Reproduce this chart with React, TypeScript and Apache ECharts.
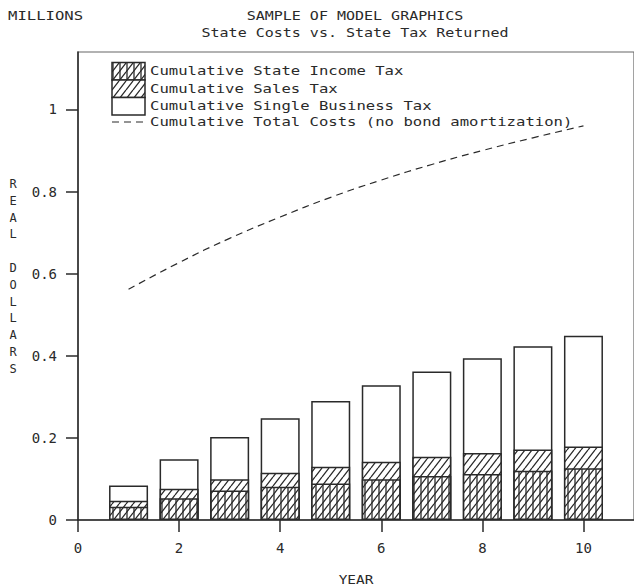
import React, { useEffect, useRef } from "react";
import * as echarts from "echarts";

const years = [1, 2, 3, 4, 5, 6, 7, 8, 9, 10];
const incomeTax = [0.032, 0.053, 0.072, 0.081, 0.089, 0.099, 0.107, 0.112, 0.12, 0.126];
const salesTax = [0.015, 0.023, 0.027, 0.034, 0.041, 0.043, 0.047, 0.051, 0.052, 0.053];
const businessTax = [0.037, 0.072, 0.103, 0.133, 0.16, 0.186, 0.208, 0.231, 0.251, 0.27];
const totalCosts = [0.562, 0.627, 0.686, 0.738, 0.786, 0.828, 0.866, 0.9, 0.931, 0.96];
const xTicks = [0, 2, 4, 6, 8, 10];
const yTicks = [0, 0.2, 0.4, 0.6, 0.8, 1];
const seriesNames = [
  "Cumulative State Income Tax",
  "Cumulative Sales Tax",
  "Cumulative Single Business Tax",
  "Cumulative Total Costs (no bond amortization)",
];

const INK = "#2a2a2a";
const FONT = "DejaVu Sans Mono";

function makeHatch(cross: boolean) {
  const w = 7;
  const h = 9;
  const c = document.createElement("canvas");
  c.width = w;
  c.height = h;
  const ctx = c.getContext("2d")!;
  ctx.fillStyle = "#fff";
  ctx.fillRect(0, 0, w, h);
  ctx.strokeStyle = INK;
  ctx.lineWidth = 1.3;
  ctx.beginPath();
  for (let k = -1; k <= 1; k++) {
    ctx.moveTo(k * w, h);
    ctx.lineTo(k * w + w, 0);
  }
  ctx.stroke();
  if (cross) {
    ctx.beginPath();
    ctx.moveTo(1, 0);
    ctx.lineTo(1, h);
    ctx.stroke();
  }
  return { type: "pattern", image: c.toDataURL(), repeat: "repeat", imageWidth: w, imageHeight: h } as any;
}

export default function App() {
  const ref = useRef<HTMLDivElement>(null);
  useEffect(() => {
    if (!ref.current) return;
    const chart = echarts.init(ref.current, null, { renderer: "svg" });
    const crossHatch = makeHatch(true);
    const diagHatch = makeHatch(false);

    // cumulative tops of the stacked segments (drawn as overlapping bars)
    const incomeTop = incomeTax.slice();
    const salesTop = incomeTax.map((v, i) => v + salesTax[i]);
    const totalTop = salesTop.map((v, i) => v + businessTax[i]);
    const pair = (arr: number[]) => years.map((y, i) => [y, arr[i]]);

    const barCommon = {
      type: "bar",
      barWidth: 39,
      barGap: "-100%",
      emphasis: { disabled: true },
    };
    const border = { borderColor: INK, borderWidth: 1.5 };

    const LX = 112; // legend icon left
    const LW = 33;
    const rowY = [71, 88.5, 106, 122];
    const boxTop = 62.5;
    const boxH = 17.5;
    const legendText = (i: number) => ({
      type: "text",
      x: LX + LW + 5,
      y: rowY[i],
      scaleX: 1.3,
      style: { text: seriesNames[i], font: `12px ${FONT}`, fill: INK, verticalAlign: "middle" },
    });

    chart.setOption({
      animation: false,
      grid: {
        left: 78,
        right: 0,
        top: 52,
        bottom: 68,
        show: true,
        borderColor: "#666",
        borderWidth: 1.2,
      },
      xAxis: {
        type: "value",
        min: 0,
        max: 11,
        interval: 2,
        splitLine: { show: false },
        axisLine: { onZero: false, lineStyle: { color: INK, width: 1.5 } },
        axisTick: { show: true, length: 12, customValues: xTicks, lineStyle: { color: INK, width: 1.5 } },
        axisLabel: { customValues: xTicks, margin: 21, fontFamily: FONT, fontSize: 14, color: INK },
      },
      yAxis: {
        type: "value",
        min: 0,
        max: 1.14,
        interval: 0.2,
        splitLine: { show: false },
        axisLine: { show: true, onZero: false, lineStyle: { color: INK, width: 1.5 } },
        axisTick: { show: true, length: 12, customValues: yTicks, lineStyle: { color: INK, width: 1.5 } },
        axisLabel: { customValues: yTicks, margin: 21, fontFamily: FONT, fontSize: 14, color: INK },
      },
      graphic: [
        { type: "text", x: 8, y: 16, scaleX: 1.3, style: { text: "MILLIONS", font: `12px ${FONT}`, fill: INK, verticalAlign: "middle" } },
        {
          type: "text",
          x: 355,
          y: 16,
          scaleX: 1.25,
          style: { text: "SAMPLE OF MODEL GRAPHICS", font: `12px ${FONT}`, fill: INK, align: "center", verticalAlign: "middle" },
        },
        {
          type: "text",
          x: 355,
          y: 33,
          scaleX: 1.25,
          style: { text: "State Costs vs. State Tax Returned", font: `12px ${FONT}`, fill: INK, align: "center", verticalAlign: "middle" },
        },
        {
          type: "text",
          x: 13,
          y: 175.5,
          style: {
            text: "R\nE\nA\nL\n\nD\nO\nL\nL\nA\nR\nS",
            font: `12px ${FONT}`,
            lineHeight: 16.8,
            fill: INK,
            align: "center",
            verticalAlign: "top",
          },
        },
        {
          type: "text",
          x: 356,
          y: 580,
          scaleX: 1.2,
          style: { text: "YEAR", font: `12px ${FONT}`, fill: INK, align: "center", verticalAlign: "middle" },
        },
        // legend
        { type: "rect", shape: { x: LX, y: boxTop, width: LW, height: boxH }, style: { fill: crossHatch, stroke: INK, lineWidth: 1.5 } },
        { type: "rect", shape: { x: LX, y: boxTop + boxH, width: LW, height: boxH }, style: { fill: diagHatch, stroke: INK, lineWidth: 1.5 } },
        { type: "rect", shape: { x: LX, y: boxTop + 2 * boxH, width: LW, height: boxH }, style: { fill: "#fff", stroke: INK, lineWidth: 1.5 } },
        {
          type: "line",
          shape: { x1: LX, y1: rowY[3], x2: LX + LW, y2: rowY[3] },
          style: { stroke: INK, lineWidth: 1.2, lineDash: [7, 5] },
        },
        legendText(0),
        legendText(1),
        legendText(2),
        legendText(3),
      ],
      series: [
        { ...barCommon, name: seriesNames[2], data: pair(totalTop), itemStyle: { ...border, color: "#fff" } },
        { ...barCommon, name: seriesNames[1], data: pair(salesTop), itemStyle: { ...border, color: diagHatch } },
        { ...barCommon, name: seriesNames[0], data: pair(incomeTop), itemStyle: { ...border, color: crossHatch } },
        {
          type: "line",
          name: seriesNames[3],
          data: pair(totalCosts),
          smooth: true,
          symbol: "none",
          showSymbol: false,
          lineStyle: { color: INK, width: 1.2, type: [7, 5] },
          itemStyle: { color: INK },
          emphasis: { disabled: true },
        },
      ],
    });
    return () => chart.dispose();
  }, []);
  return <div ref={ref} style={{ width: 634, height: 588, position: "absolute", left: 0, top: 0, background: "#fff" }} />;
}
